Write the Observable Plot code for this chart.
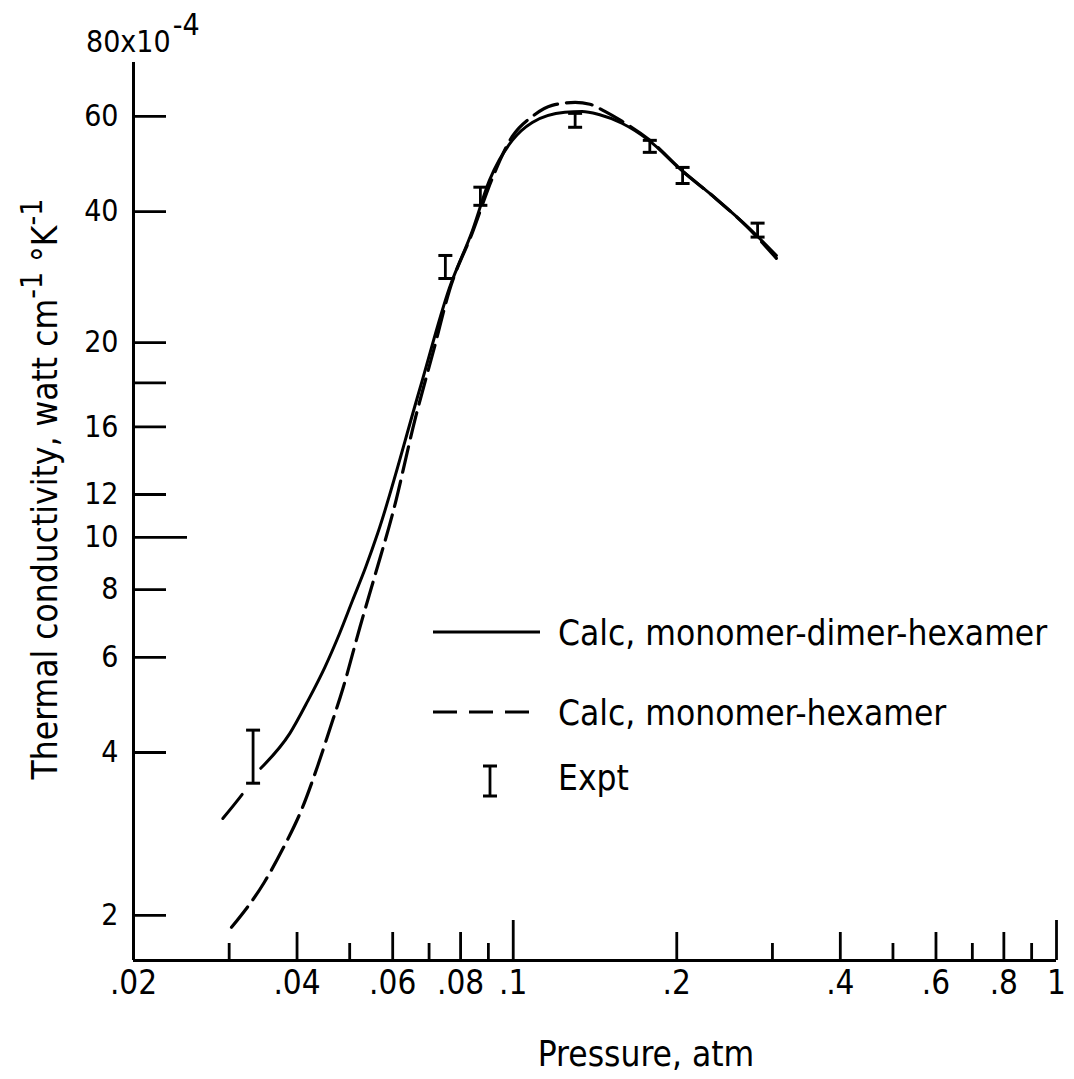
<!DOCTYPE html>
<html><head><meta charset="utf-8">
<script src="https://cdn.jsdelivr.net/npm/d3@7"></script>
<script src="https://cdn.jsdelivr.net/npm/@observablehq/plot@0.6"></script>
<style>
html,body{margin:0;padding:0;background:#fff;}
#chart{position:relative;width:1074px;height:1079px;}
svg{font-family:"DejaVu Sans Condensed","DejaVu Sans",sans-serif;font-stretch:condensed;}
</style></head><body><div id="chart"></div>
<script>
// ---- data (pressure in atm, thermal conductivity in 1e-4 W cm^-1 K^-1) ----
const pressureSolid = [0.0343, 0.0388, 0.0419, 0.0450, 0.0479, 0.0506, 0.0535, 0.0563, 0.0672, 0.0763, 0.0841, 0.0904, 0.0996, 0.1084, 0.1245, 0.1339, 0.1438, 0.1585, 0.1777, 0.2042, 0.2347, 0.2710, 0.3051];
const kSolid        = [3.74, 4.34, 4.99, 5.75, 6.64, 7.64, 8.80, 10.17, 18.7, 28.9, 36.9, 45.7, 54.2, 58.5, 61.1, 61.3, 60.5, 58.3, 54.2, 47.7, 42.5, 37.4, 33.2];
const pressureSolidExt = [0.0292, 0.0318, 0.0343];
const kSolidExt        = [3.02, 3.36, 3.74];
const pressureDash = [0.0303, 0.0348, 0.0377, 0.0408, 0.0437, 0.0460, 0.0486, 0.0522, 0.0558, 0.0600, 0.0661, 0.0716, 0.0763, 0.0841, 0.0915, 0.0996, 0.1084, 0.1179, 0.1300, 0.1384, 0.1475, 0.1585, 0.1777, 0.2042, 0.2347, 0.2710, 0.3051];
const kDash        = [1.90, 2.30, 2.66, 3.14, 3.79, 4.43, 5.26, 6.81, 8.58, 11.07, 16.66, 22.45, 28.6, 36.6, 46.1, 55.1, 60.0, 62.9, 63.7, 63.2, 61.3, 58.8, 54.4, 47.7, 42.5, 37.3, 32.8];
const expPressure = [0.0332, 0.0750, 0.0870, 0.1300, 0.1784, 0.2050, 0.2817];
const expLow      = [3.51, 30.1, 41.1, 57.3, 51.5, 45.1, 35.9];
const expHigh     = [4.40, 33.2, 44.4, 60.8, 54.2, 48.3, 38.1];

const xTickValues = [0.02, 0.04, 0.06, 0.08, 0.1, 0.2, 0.4, 0.6, 0.8, 1];
const xTickLabels = [".02", ".04", ".06", ".08", ".1", ".2", ".4", ".6", ".8", "1"];
const xMidTicks   = [0.04, 0.06, 0.08, 0.2, 0.4, 0.6, 0.8];
const xMinorTicks = [0.03, 0.05, 0.07, 0.09, 0.3, 0.5, 0.7, 0.9];
const xMajorTicks = [0.1, 1];
const yTickValues = [2, 4, 6, 8, 10, 12, 16, 19.3, 22.9, 40, 60];
const yTickLabels = ["2", "4", "6", "8", "10", "12", "16", "", "20", "40", "60"];
const yLongTicks  = [10];
const legendLabels = ["Calc, monomer-dimer-hexamer", "Calc, monomer-hexamer", "Expt"];

// ---- tables ----
const solid = pressureSolid.map((p, i) => ({p, k: kSolid[i]}));
const solidExt = pressureSolidExt.map((p, i) => ({p, k: kSolidExt[i]}));
const dashed = pressureDash.map((p, i) => ({p, k: kDash[i]}));
const expt = expPressure.map((p, i) => ({p, lo: expLow[i], hi: expHigh[i]}));
const xTickTable = xTickValues.map((v, i) => ({v, label: xTickLabels[i]}));
const yTickTable = yTickValues.map((v, i) => ({v, label: yTickLabels[i]}));

const FONT = '"DejaVu Sans Condensed","DejaVu Sans",sans-serif';
const SW = 2.8;
const DASH = "26,9";
const capSymbol = {draw(ctx) { ctx.moveTo(-7, 0); ctx.lineTo(7, 0); }};

const yMin = 1.65, yMax = 75.5;

const chart = Plot.plot({
  width: 1074, height: 1079,
  marginLeft: 133, marginRight: 18, marginTop: 62, marginBottom: 119,
  style: {fontFamily: FONT, fontSize: "30px", color: "#000", background: "#fff", overflow: "visible"},
  x: {type: "log", domain: [0.02, 1]},
  y: {type: "log", domain: [yMin, yMax]},
  marks: [
    Plot.ruleX([0.02], {strokeWidth: 3}),
    Plot.ruleY([yMin], {strokeWidth: 3}),
    Plot.axisX({ticks: xMidTicks, tickSize: -28, fill: "none", label: null, strokeWidth: SW}),
    Plot.axisX({ticks: xMinorTicks, tickSize: -17, fill: "none", label: null, strokeWidth: SW}),
    Plot.axisX({ticks: xMajorTicks, tickSize: -40, fill: "none", label: null, strokeWidth: SW}),
    Plot.axisY({ticks: yTickValues.filter(v => !yLongTicks.includes(v)), tickSize: -33, fill: "none", label: null, strokeWidth: SW}),
    Plot.axisY({ticks: yLongTicks, tickSize: -54, fill: "none", label: null, strokeWidth: SW}),
    Plot.text(xTickTable, {x: "v", text: "label", frameAnchor: "bottom", lineAnchor: "top", dy: 10, fontSize: 33}),
    Plot.text(yTickTable, {y: "v", text: "label", frameAnchor: "left", textAnchor: "end", dx: -15, fontSize: 30}),
    Plot.line(solidExt, {x: "p", y: "k", curve: "monotone-x", strokeWidth: 3, strokeDasharray: "31,40", strokeLinecap: "round"}),
    Plot.line(solid, {x: "p", y: "k", curve: "monotone-x", strokeWidth: 3, strokeLinecap: "round"}),
    Plot.line(dashed, {x: "p", y: "k", curve: "monotone-x", strokeWidth: 3.2, strokeDasharray: DASH, strokeLinecap: "round"}),
    Plot.ruleX(expt, {x: "p", y1: "lo", y2: "hi", strokeWidth: 2.8}),
    Plot.dot(expt, {x: "p", y: "lo", symbol: capSymbol, stroke: "black", strokeWidth: 3, fill: "none"}),
    Plot.dot(expt, {x: "p", y: "hi", symbol: capSymbol, stroke: "black", strokeWidth: 3, fill: "none"})
  ]
});
document.getElementById("chart").appendChild(chart);

// ---- annotations: titles, unit label, legend ----
const svg = d3.select(chart);
const ann = svg.append("g").attr("font-family", FONT).attr("font-stretch", "condensed").attr("fill", "#000").attr("text-anchor", "start");

const unitText = ann.append("text").attr("x", 86).attr("y", 52).attr("font-size", 30);
unitText.append("tspan").text("80x10");
unitText.append("tspan").attr("dy", -17).attr("dx", 2).text("-4");

const yt = ann.append("text").attr("transform", "translate(57,489) rotate(-90)").attr("text-anchor", "middle").attr("font-size", 35);
yt.append("tspan").text("Thermal conductivity, watt cm");
yt.append("tspan").attr("dy", -15).attr("font-size", 30).text("-1");
yt.append("tspan").attr("dy", 15).text(" \u00B0K");
yt.append("tspan").attr("dy", -15).attr("font-size", 30).text("-1");

ann.append("text").attr("x", 646).attr("y", 1066).attr("text-anchor", "middle").attr("font-size", 35).text("Pressure, atm");

const leg = ann.append("g");
leg.append("line").attr("x1", 433).attr("x2", 540).attr("y1", 632).attr("y2", 632).attr("stroke", "#000").attr("stroke-width", 3);
leg.append("line").attr("x1", 433).attr("x2", 540).attr("y1", 712).attr("y2", 712).attr("stroke", "#000").attr("stroke-width", 3).attr("stroke-dasharray", "24,12");
leg.append("line").attr("x1", 490).attr("x2", 490).attr("y1", 766).attr("y2", 796).attr("stroke", "#000").attr("stroke-width", 2.8);
leg.append("line").attr("x1", 483).attr("x2", 497).attr("y1", 766).attr("y2", 766).attr("stroke", "#000").attr("stroke-width", 3);
leg.append("line").attr("x1", 483).attr("x2", 497).attr("y1", 796).attr("y2", 796).attr("stroke", "#000").attr("stroke-width", 3);
const ly = [632, 712, 777];
legendLabels.forEach((t, i) => {
  leg.append("text").attr("x", 558).attr("y", ly[i]).attr("dy", "0.36em").attr("font-size", 35).text(t);
});
</script>
</body></html>
